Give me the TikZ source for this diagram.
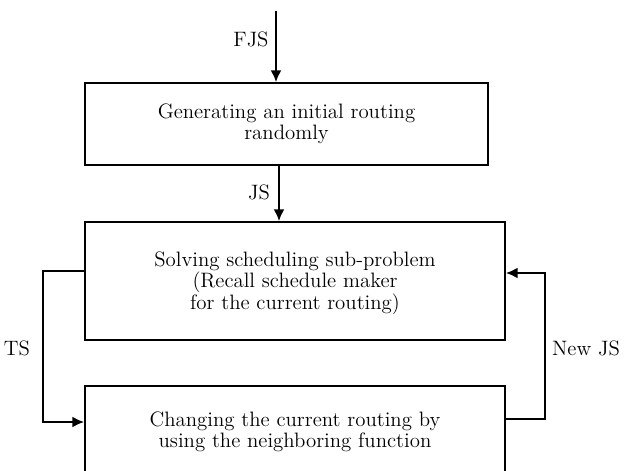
\documentclass[tikz,border=0pt]{standalone}
\usepackage{tikz}
\usetikzlibrary{positioning, calc, arrows.meta}

\begin{document}
\begin{tikzpicture}[x=0.6pt, y=-0.6pt, line width=1.1pt,
    block/.style={draw, align=center, inner sep=0pt, font=\fontsize{12.5}{12.3}\selectfont},
    flow/.style={-{Latex[length=7pt,width=6.5pt]}},
    lbl/.style={font=\fontsize{12.5}{12.3}\selectfont}]

    \clip (0,0) rectangle (626,470);

    % --- Blocks ---
    \node[block, minimum width=241.8pt, minimum height=49.2pt] (gen) at (286.5,124)
        {Generating an initial routing\\randomly};
    \node[block, minimum width=252pt, minimum height=70.8pt, text depth=-2pt] (solve) at (295,281)
        {Solving scheduling sub-problem\\(Recall schedule maker\\for the current routing)};
    \node[block, minimum width=252pt, minimum height=55.2pt] (change) at (295,432)
        {Changing the current routing by\\using the neighboring function};

    % --- Top input ---
    \coordinate (fjs) at (276,11);
    \draw[flow] (fjs) -- (fjs |- gen.north);
    \node[lbl] (fjslbl) at (251,39) {FJS};

    % JS arrow
    \coordinate (js) at (279,0);
    \draw[flow] (js |- gen.south) -- (js |- solve.north);
    \node[lbl] (jslbl) at (259,192) {JS};

    % --- Loop ---
    % TS path on the left
    \draw[flow] ([yshift=6pt]solve.west) -- ++(-41,0) |- ([yshift=6pt]change.west);
    \node[lbl] (tslbl) at (17,348) {TS};

    % New JS path on the right
    \draw[flow] ([yshift=7.8pt]change.east) -- ++(39,0) |- ([yshift=4.8pt]solve.east);
    \node[lbl] (newjslbl) at (586,348) {New JS};

\end{tikzpicture}
\end{document}
